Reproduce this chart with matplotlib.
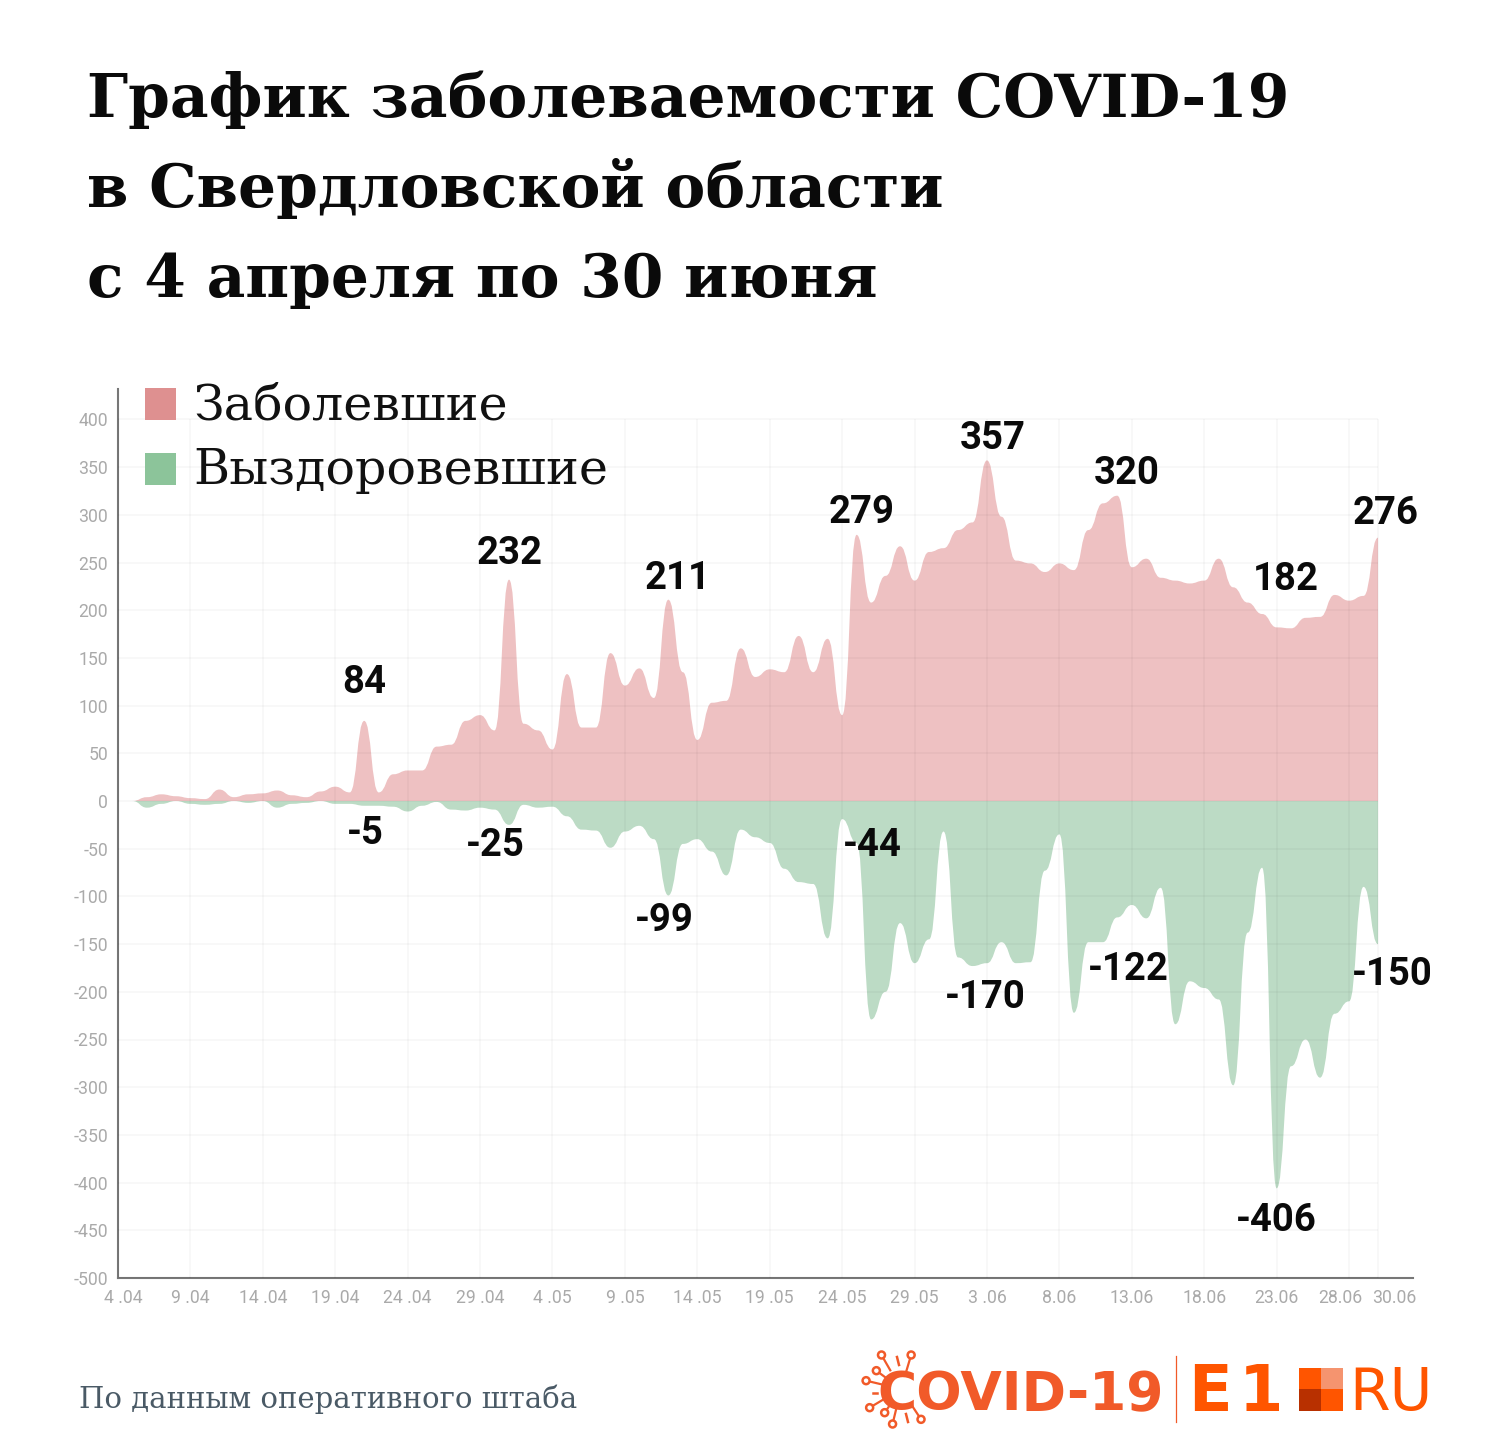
import numpy as np
import matplotlib
matplotlib.use("Agg")
import matplotlib.pyplot as plt
from matplotlib.path import Path
from matplotlib.patches import PathPatch, Rectangle, Circle
from matplotlib.transforms import ScaledTranslation

plt.rcParams["axes.unicode_minus"] = False

# daily values, 4 april .. 30 june
sick = [0, 0, 4, 7, 5, 3, 2, 12, 4, 7, 8, 11, 6, 4, 10, 15, 9, 84, 9, 28, 32, 32,
        57, 59, 84, 90, 74, 232, 81, 74, 54, 133, 77, 77, 155, 121, 139, 108, 211,
        135, 64, 103, 105, 160, 130, 138, 135, 173, 135, 170, 90, 279, 208, 236,
        267, 231, 261, 265, 284, 292, 357, 298, 252, 249, 240, 249, 242, 284, 312,
        320, 245, 254, 234, 231, 228, 231, 254, 224, 208, 196, 182, 181, 192, 193,
        216, 210, 215, 276]
recovered = [0, 0, -7, -3, 0, -3, -4, -3, 0, -2, 0, -7, -3, -2, 0, -3, -3, -5, -5,
             -6, -11, -5, -1, -9, -10, -7, -9, -25, -4, -7, -6, -16, -30, -31, -49,
             -32, -26, -40, -99, -45, -40, -53, -78, -30, -38, -44, -71, -85, -87,
             -144, -19, -44, -229, -200, -128, -170, -145, -32, -164, -173, -170,
             -148, -170, -169, -73, -35, -222, -148, -148, -122, -109, -123, -91,
             -234, -189, -196, -208, -298, -138, -70, -406, -278, -250, -290, -223,
             -210, -90, -150]

title_lines = ["График заболеваемости COVID-19", "в Свердловской области", "с 4 апреля по 30 июня"]
legend_names = ["Заболевшие", "Выздоровевшие"]
source_text = "По данным оперативного штаба"

y_ticks = list(range(-500, 401, 50))
x_tick_days = [0, 5, 10, 15, 20, 25, 30, 35, 40, 45, 50, 55, 60, 65, 70, 75, 80, 85, 87]
x_tick_labels = ["4 .04", "9 .04", "14 .04", "19 .04", "24 .04", "29 .04", "4 .05", "9 .05",
                 "14 .05", "19 .05", "24 .05", "29 .05", "3 .06", "8.06", "13.06", "18.06",
                 "23.06", "28.06", "30.06"]

sick_label_days = [17, 27, 38, 51, 60, 69, 80, 87]
recovered_label_days = [17, 27, 38, 51, 60, 69, 80, 87]
# label offset from its point, in pixels
sick_label_offsets = [(0, 38), (1, 26), (9, 21), (5, 22), (6, 22), (9, 22), (9, 48), (8, 24)]
recovered_label_offsets = [(1, -28), (-14, -21), (-4, -25), (16, -3), (-2, -34), (11, -52), (0, -32), (14, -30)]

PINK = "#eec1c2"
GREEN = "#bcdbc5"
SLAB = "DejaVu Serif"
SANS = "Roboto"
PX_PER_DAY = 14.483


def bump_path(ys):
    # flat tangent at every daily point, bezier handles half way to the next day
    verts = [(0, 0), (0, ys[0])]
    codes = [Path.MOVETO, Path.LINETO]
    for i in range(len(ys) - 1):
        verts += [(i + 0.5, ys[i]), (i + 0.5, ys[i + 1]), (i + 1, ys[i + 1])]
        codes += [Path.CURVE4, Path.CURVE4, Path.CURVE4]
    verts += [(len(ys) - 1, 0), (0, 0)]
    codes += [Path.LINETO, Path.CLOSEPOLY]
    return Path(verts, codes)


fig = plt.figure(figsize=(15, 14.47), dpi=100, facecolor="white")
ax = fig.add_axes([118 / 1500, 169 / 1447, 1295 / 1500, 889 / 1447])
ax.set_xlim(0, 1295 / PX_PER_DAY)
ax.set_ylim(-500, 889 / 0.954 - 500)

ax.add_patch(PathPatch(bump_path(sick), facecolor=PINK, edgecolor="none", zorder=2))
ax.add_patch(PathPatch(bump_path(recovered), facecolor=GREEN, edgecolor="none", zorder=2))

# grid stops at the last day and at 400
last_day = len(sick) - 1
ax.hlines(y_ticks, 0, last_day, color="black", alpha=0.03, lw=1.3, zorder=3)
ax.vlines(x_tick_days, -500, 400, color="black", alpha=0.03, lw=1.3, zorder=3)

for side in ["top", "right"]:
    ax.spines[side].set_visible(False)
for side in ["left", "bottom"]:
    ax.spines[side].set_color("#777777")
    ax.spines[side].set_linewidth(1.5)

ax.set_yticks(y_ticks)
ax.set_xticks(x_tick_days)
ax.set_xticklabels(x_tick_labels)
ax.tick_params(length=0, labelsize=12.7, labelcolor="#aaaaaa", pad=7)
ax.tick_params(axis="x", pad=8)
for lab in ax.get_xticklabels() + ax.get_yticklabels():
    lab.set_family(SANS)
xlabs = ax.get_xticklabels()
for lab, dx in [(xlabs[0], 5), (xlabs[-2], -9), (xlabs[-1], 16)]:
    lab.set_transform(lab.get_transform() + ScaledTranslation(dx / 100, 0, fig.dpi_scale_trans))

for d, off in zip(sick_label_days, sick_label_offsets):
    ax.annotate(str(sick[d]), (d, sick[d]), xytext=off, textcoords="offset pixels", ha="center",
                va="center", family=SANS, weight="bold", fontsize=27.5, color="#0a0a0a", zorder=5,
                annotation_clip=False)
for d, off in zip(recovered_label_days, recovered_label_offsets):
    ax.annotate(str(recovered[d]), (d, recovered[d]), xytext=off, textcoords="offset pixels", ha="center",
                va="center", family=SANS, weight="bold", fontsize=27.5, color="#0a0a0a", zorder=5,
                annotation_clip=False)

# everything else in picture pixels
top = fig.add_axes([0, 0, 1, 1], facecolor="none", zorder=10)
top.set_xlim(0, 1500)
top.set_ylim(1447, 0)
top.axis("off")

for line, y in zip(title_lines, [117, 207, 297]):
    top.text(87, y, line, family=SLAB, weight="bold", fontsize=43, color="#0a0a0a", va="baseline")

for name, color, y in zip(legend_names, ["#de9090", "#8cc49a"], [388, 453]):
    top.add_patch(Rectangle((145, y), 31, 32, facecolor=color, edgecolor="none"))
    top.text(193.5, y + 31, name, family=SLAB, fontsize=35.4, color="#111111", va="baseline")

top.text(79, 1408, source_text, family=SLAB, fontsize=21, color="#4a5a66", va="baseline")

# logo
ORANGE = "#f15a29"
top.text(877, 1410, "COVID-19", family="DejaVu Sans", weight="bold", fontsize=38.5, color=ORANGE, va="baseline")
for zx, zy in [(105, 75), (180, 75), (92, 122), (66, 152), (75, 233), (113, 248), (133, 282), (205, 268)]:
    cx, cy = 840 + zx / 2.53, 1330 + zy / 3
    top.plot([cx, cx + (901 - cx) * 0.45], [cy, cy + (1389 - cy) * 0.45], color=ORANGE, lw=1.6)
    top.add_patch(Circle((cx, cy), 3.5, facecolor="white", edgecolor=ORANGE, lw=1.8, zorder=4))
for x0, y0, x1, y1 in [(897, 1357, 899, 1365), (873, 1393, 877, 1393), (906, 1414, 908, 1422)]:
    top.plot([x0, x1], [y0, y1], color=ORANGE, lw=1.8)
top.plot([1176, 1176], [1356, 1422], color=ORANGE, lw=0.9)

E1 = "#ff5500"
top.text(1188, 1411, "E", family="DejaVu Sans", weight="bold", fontsize=46, color=E1, va="baseline")
top.text(1239, 1411, "1", family="DejaVu Sans", weight="bold", fontsize=46, color=E1, va="baseline")
top.add_patch(Rectangle((1299, 1368), 22, 21, facecolor=E1, edgecolor="none"))
top.add_patch(Rectangle((1321, 1368), 22, 21, facecolor="#f5946f", edgecolor="none"))
top.add_patch(Rectangle((1299, 1389), 22, 22, facecolor="#b83000", edgecolor="none"))
top.add_patch(Rectangle((1321, 1389), 22, 22, facecolor=E1, edgecolor="none"))
top.text(1349, 1410, "RU", family="DejaVu Sans", fontsize=42, color=E1, va="baseline")

fig.savefig("out.png", dpi=100)
